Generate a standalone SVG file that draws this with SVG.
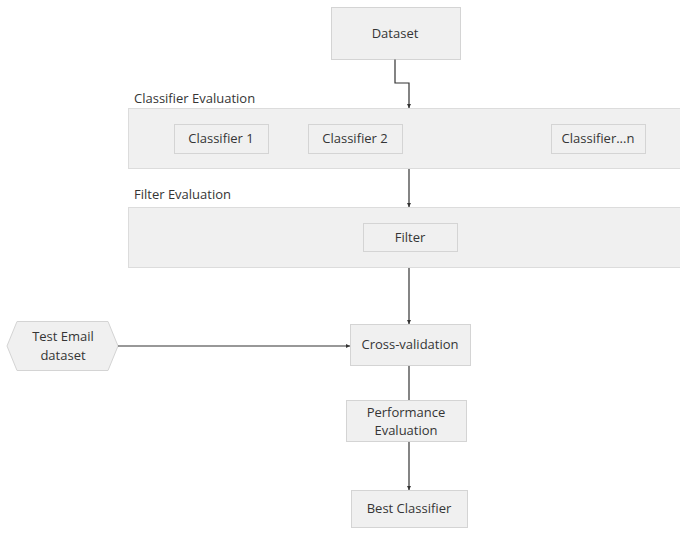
<svg xmlns="http://www.w3.org/2000/svg" width="680" height="535" viewBox="0 0 680 535">
  <defs>
    <style>
      .panel { fill: #f0f0f0; stroke: #dcdcdc; stroke-width: 1; }
      .box { fill: #f0f0f0; stroke: #d4d4d4; stroke-width: 1; }
      .lbl { font-family: "Open Sans", "Liberation Sans", sans-serif; font-size: 13px; fill: #353535; }
      .mid { text-anchor: middle; }
      .edge { fill: none; stroke: #333333; stroke-width: 1.2; }
    </style>
    <marker id="arrow" viewBox="0 0 8 8" refX="8" refY="4" markerWidth="4" markerHeight="4" orient="auto" markerUnits="userSpaceOnUse">
      <path d="M0,0 L8,4 L0,8 z" fill="#333333"/>
    </marker>
  </defs>

  <rect width="680" height="535" fill="#ffffff"/>

  <!-- section panels -->
  <g id="classifier-evaluation">
    <text class="lbl" x="134" y="103">Classifier Evaluation</text>
    <rect class="panel" x="128.5" y="108.5" width="555" height="60"/>
  </g>
  <g id="filter-evaluation">
    <text class="lbl" x="134" y="199">Filter Evaluation</text>
    <rect class="panel" x="128.5" y="207.5" width="555" height="60"/>
  </g>

  <!-- nodes -->
  <g id="dataset">
    <rect class="box" x="331.5" y="7.5" width="129" height="52"/>
    <text class="lbl mid" x="395" y="38">Dataset</text>
  </g>
  <g id="classifier-1">
    <rect class="box" x="174.5" y="124.5" width="94" height="29"/>
    <text class="lbl mid" x="221" y="143">Classifier 1</text>
  </g>
  <g id="classifier-2">
    <rect class="box" x="308.5" y="124.5" width="94" height="29"/>
    <text class="lbl mid" x="355" y="143">Classifier 2</text>
  </g>
  <g id="classifier-n">
    <rect class="box" x="551.5" y="124.5" width="94" height="29"/>
    <text class="lbl mid" x="598" y="143">Classifier...n</text>
  </g>
  <g id="filter">
    <rect class="box" x="363.5" y="223.5" width="94" height="28"/>
    <text class="lbl mid" x="410" y="242">Filter</text>
  </g>
  <g id="test-email-dataset">
    <polygon class="box" points="7,346 17,321.5 108,321.5 118,346 108,370.5 17,370.5"/>
    <text class="lbl mid" x="63" y="341">Test Email</text>
    <text class="lbl mid" x="63" y="360">dataset</text>
  </g>
  <g id="cross-validation">
    <rect class="box" x="350.5" y="324.5" width="120" height="41"/>
    <text class="lbl mid" x="410" y="349">Cross-validation</text>
  </g>
  <g id="performance-evaluation">
    <rect class="box" x="346.5" y="400.5" width="120" height="41"/>
    <text class="lbl mid" x="406" y="417">Performance</text>
    <text class="lbl mid" x="406" y="435">Evaluation</text>
  </g>
  <g id="best-classifier">
    <rect class="box" x="351.5" y="490.5" width="116" height="37"/>
    <text class="lbl mid" x="409" y="513">Best Classifier</text>
  </g>

  <!-- connectors -->
  <g id="connectors">
    <path class="edge" d="M395,59.5 V83 H409 V108" marker-end="url(#arrow)"/>
    <path class="edge" d="M409,169 V207" marker-end="url(#arrow)"/>
    <path class="edge" d="M409,268 V324" marker-end="url(#arrow)"/>
    <path class="edge" d="M118,346 H350" marker-end="url(#arrow)"/>
    <path class="edge" d="M409,366 V400"/>
    <path class="edge" d="M409,442 V490" marker-end="url(#arrow)"/>
  </g>
</svg>
